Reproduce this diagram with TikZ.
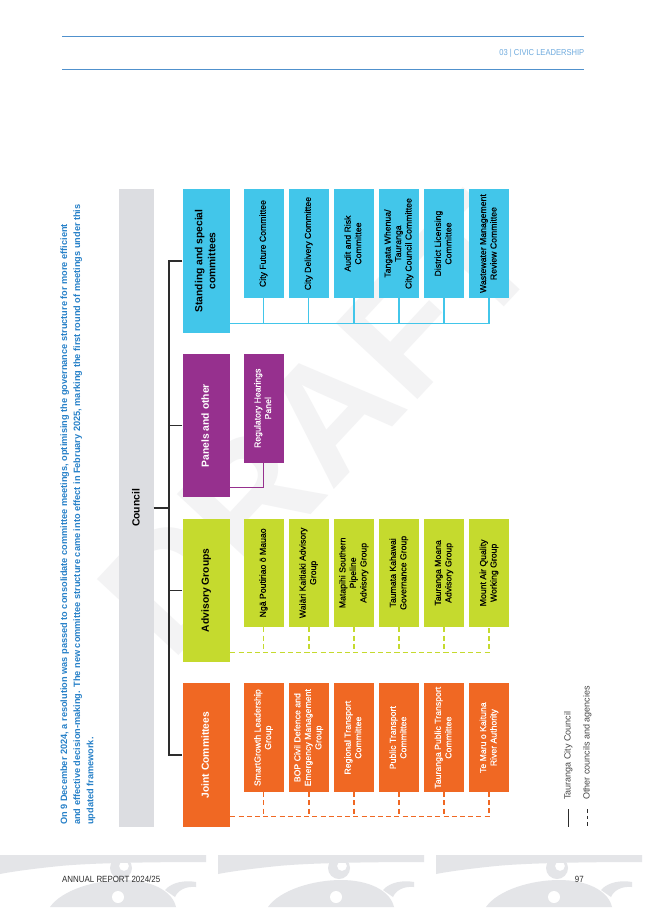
\documentclass[tikz,border=0pt]{standalone}
\usepackage{fontspec}
\setmainfont{Liberation Sans}
\newfontfamily\condf[FakeStretch=0.88]{Liberation Sans}
\newfontfamily\medf[FakeBold=0.5]{Liberation Sans}
\usetikzlibrary{calc}
\definecolor{ccyan}{RGB}{66,198,234}
\definecolor{cpurple}{RGB}{150,48,142}
\definecolor{cgreen}{RGB}{197,218,46}
\definecolor{corange}{RGB}{240,104,35}
\definecolor{cgrey}{RGB}{220,221,225}
\definecolor{cdark}{RGB}{45,45,45}
\definecolor{hblue}{RGB}{80,145,205}
\definecolor{htext}{RGB}{110,170,222}
\definecolor{iblue}{RGB}{38,128,200}
\definecolor{korucol}{RGB}{228,229,232}
\definecolor{wmark}{RGB}{243,243,244}
\definecolor{legtext}{RGB}{70,70,70}
\newcommand\rtxt[1]{\rotatebox{90}{\begin{tabular}{@{}c@{}}#1\end{tabular}}}
\begin{document}
\begin{tikzpicture}[x=1pt,y=-1pt,
  mainbox/.style={inner sep=0pt, minimum width=47.7pt, minimum height=143.5pt, anchor=north west, font=\fontsize{10.3}{13}\selectfont\bfseries},
  subbox/.style={inner sep=0pt, minimum width=40.3pt, minimum height=108.7pt, anchor=north west, font=\medf\fontsize{8.7}{10.5}\selectfont},
  tree/.style={draw=cdark, line width=1.3pt},
  cyanline/.style={draw=ccyan, line width=1.4pt},
  purpleline/.style={draw=cpurple, line width=1.4pt},
  greenline/.style={draw=cgreen, line width=1.5pt, dash pattern=on 5pt off 3.2pt},
  orangeline/.style={draw=corange, line width=1.5pt, dash pattern=on 5pt off 3.2pt},
  korufill/.style={fill=korucol},
]
\useasboundingbox (0,0) rectangle (645,912);
\fill[white] (0,0) rectangle (645,912);

% watermark
\node[inner sep=0pt, text=wmark, font=\fontsize{162}{162}\selectfont\bfseries] (wm) at (318,425) {\rotatebox{47}{DRAFT}};

% header
\coordinate (h1a) at (62,36.7); \coordinate (h1b) at (584.4,36.7);
\coordinate (h2a) at (62,69.3); \coordinate (h2b) at (584.4,69.3);
\draw[hblue, line width=1.5pt] (h1a) -- (h1b);
\draw[hblue, line width=1.5pt] (h2a) -- (h2b);
\node[anchor=east, inner sep=0pt, text=htext, font=\condf\fontsize{8.6}{10}\selectfont] (hdr) at (584.4,53.3) {03 | CIVIC LEADERSHIP};

% intro text
\node[anchor=south west, inner sep=0pt, text=iblue, font=\fontsize{9.2}{13.2}\selectfont\bfseries] (intro) at (57.6,825)
{\rotatebox{90}{\begin{tabular}{@{}l@{}}On 9 December 2024, a resolution was passed to consolidate committee meetings, optimising the governance structure for more efficient\\
and effective decision-making. The new committee structure came into effect in February 2025, marking the first round of meetings under this\\
updated framework.\end{tabular}}};

% council bar
\node[anchor=north west, inner sep=0pt, fill=cgrey, minimum width=35pt, minimum height=638.7pt, font=\fontsize{10.4}{13}\selectfont\bfseries] (C) at (118.3,188.3) {\rotatebox{90}{Council}};

% main boxes
\node[mainbox, fill=ccyan, text=black] (S) at (182.3,189) {\rtxt{Standing and special\\committees}};
\node[mainbox, fill=cpurple, text=white] (P) at (182.3,353.7) {\rtxt{Panels and other}};
\node[mainbox, fill=cgreen, text=black] (A) at (182.3,518.3) {\rtxt{Advisory Groups}};
\node[mainbox, fill=corange, text=white] (J) at (182.3,683.1) {\rtxt{Joint Committees}};

% sub boxes
\foreach \i/\lbl in {1/{City Future Committee},2/{City Delivery Committee},3/{Audit and Risk\\Committee},4/{Tangata Whenua/\\Tauranga\\City Council Committee},5/{District Licensing\\Committee},6/{Wastewater Management\\Review Committee}}{
  \node[subbox, fill=ccyan, text=black] (s\i) at ({243.3+45.1*(\i-1)},189) {\rtxt{\lbl}};
}
\node[subbox, fill=cpurple, text=white] (r1) at (243.3,353.7) {\rtxt{Regulatory Hearings\\Panel}};
\foreach \i/\lbl in {1/{Ngā Poutiriao ō Mauao},2/{Waiāri Kaitiaki Advisory\\Group},3/{Matapihi Southern\\Pipeline\\Advisory Group},4/{Taumata Kahawai\\Governance Group},5/{Tauranga Moana\\Advisory Group},6/{Mount Air Quality\\Working Group}}{
  \node[subbox, fill=cgreen, text=black] (a\i) at ({243.3+45.1*(\i-1)},518.3) {\rtxt{\lbl}};
}
\foreach \i/\lbl in {1/{SmartGrowth Leadership\\Group},2/{BOP Civil Defence and\\Emergency Management\\Group},3/{Regional Transport\\Committee},4/{Public Transport\\Committee},5/{Tauranga Public Transport\\Committee},6/{Te Maru o Kaituna\\River Authority}}{
  \node[subbox, fill=corange, text=white] (j\i) at ({243.3+45.1*(\i-1)},683.1) {\rtxt{\lbl}};
}

% tree connectors
\draw[tree] (S.west) -- ++(-13.3,0) coordinate (t0) |- (J.west);
\draw[tree] (P.west) -- (P.west -| t0);
\draw[tree] (A.west) -- (A.west -| t0);
\draw[tree] (C.east) -- (C.east -| t0);

% group buses
\coordinate (Sbus) at ($(S.north east)+(0,134.3)$);
\draw[cyanline] (Sbus) -| (s6.south);
\foreach \i in {1,...,5} \draw[cyanline] (s\i.south) -- (s\i.south |- Sbus);
\coordinate (Pbus) at ($(P.north east)+(0,134)$);
\draw[purpleline] (Pbus) -| (r1.south);
\coordinate (Abus) at ($(A.north east)+(0,134.4)$);
\draw[greenline] (Abus) -| (a6.south);
\foreach \i in {1,...,5} \draw[greenline] (a\i.south) -- (a\i.south |- Abus);
\coordinate (Jbus) at ($(J.north east)+(0,133.6)$);
\draw[orangeline] (Jbus) -| (j6.south);
\foreach \i in {1,...,5} \draw[orangeline] (j\i.south) -- (j\i.south |- Jbus);

% legend
\coordinate (l1a) at (568.3,809.3); \coordinate (l1b) at (568.3,826.7);
\coordinate (l2a) at (587.3,809.3); \coordinate (l2b) at (587.3,826.7);
\draw[draw=cdark, line width=1.4pt] (l1a) -- (l1b);
\draw[draw=cdark, line width=1.4pt, dash pattern=on 3.5pt off 3pt] (l2a) -- (l2b);
\node[anchor=south, inner sep=0pt, text=legtext, font=\fontsize{9}{10}\selectfont] (lt1) at (568.3,800) {\rotatebox{90}{Tauranga City Council}};
\node[anchor=south, inner sep=0pt, text=legtext, font=\fontsize{9}{10}\selectfont] (lt2) at (587.3,800) {\rotatebox{90}{Other councils and agencies}};

% footer koru band
\foreach \ox in {0,218,436}{
  \begin{scope}[shift={(\ox,0)}]
    \fill[korufill] (0,855) -- (206,855) -- (206,862) .. controls (150,862) and (90,863) .. (60,866) .. controls (30,869) and (10,872) .. (0,874) -- cycle;
    \fill[korufill, even odd rule] (121,868) circle[radius=11] (124,866) circle[radius=5];
    \fill[korufill] (50,907) .. controls (62,890) and (95,880) .. (123,880) .. controls (150,880) and (172,890) .. (176,907) -- cycle;
    \fill[white] (118,897) circle[radius=6];
    \fill[korufill] (165,890) .. controls (172,882) and (185,880) .. (196,882) -- (196,887) .. controls (186,886) and (178,890) .. (175,897) -- cycle;
  \end{scope}
}
\node[anchor=west, inner sep=0pt, text=cdark, font=\condf\fontsize{9}{10}\selectfont] (ft1) at (62,879) {ANNUAL REPORT 2024/25};
\node[anchor=east, inner sep=0pt, text=cdark, font=\condf\fontsize{9}{10}\selectfont] (ft2) at (584,879) {97};
\end{tikzpicture}
\end{document}
